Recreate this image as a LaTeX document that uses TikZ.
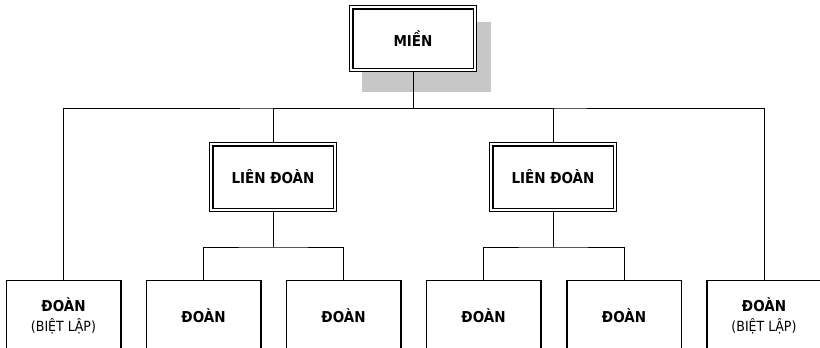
\documentclass[tikz,border=0pt]{standalone}
\usepackage{fontspec}
\setmainfont{DejaVu Sans Condensed}
\newcommand{\nhonho}{\mdseries\fontsize{14}{20}\selectfont}
\tikzset{
  khung/.style={draw, fill=white, line width=1.1pt,
    minimum width=127pt, minimum height=66pt, inner sep=0pt,
    font=\bfseries\fontsize{15}{18}\selectfont},
  doan/.style={draw, line width=1.5pt, minimum width=114.5pt,
    minimum height=70pt, anchor=north, align=center, inner sep=0pt,
    font=\bfseries\fontsize{15}{20}\selectfont},
  noi/.style={line width=0.9pt}
}
\begin{document}
\begin{tikzpicture}[x=1pt,y=-1pt]
  \useasboundingbox (0,0) rectangle (820,348);
  \clip (0,0) rectangle (820,348);
  % shadow of the top box
  \fill[black!22] (362,22) rectangle (491,92);
  \node[khung] (mien) at (413,38.5) {MIỀN};
  \node[khung, minimum height=69pt] (ld1) at (273,177) {LIÊN ĐOÀN};
  \node[khung, minimum height=69pt] (ld2) at (553,177) {LIÊN ĐOÀN};
  % inner line of the double frames
  \foreach \n in {mien,ld1,ld2}
    \draw[line width=1.9pt] ([shift={(3.6,3.6)}]\n.north west) rectangle ([shift={(-3.6,-3.6)}]\n.south east);
  \foreach \i/\x/\t in {1/63.5/{ĐOÀN\\{\nhonho (BIỆT LẬP)}},2/203.5/ĐOÀN,
      3/343.5/ĐOÀN,4/483.5/ĐOÀN,5/624/ĐOÀN,6/764/{ĐOÀN\\{\nhonho (BIỆT LẬP)}}}{
    \node[doan] (b\i) at (\x,279.75) {\t};
  }
  \coordinate (bus) at (mien.south |- 0,108);
  \coordinate (s1) at (ld1.south |- 0,247);
  \coordinate (s2) at (ld2.south |- 0,247);
  \draw[noi] (mien.south)--(bus);
  \draw[noi] (b1.north) |- (bus) -| (b6.north);
  \draw[noi] (bus) -| (ld1.north) (bus) -| (ld2.north);
  \draw[noi] (ld1.south)--(s1) (b2.north) |- (s1) -| (b3.north);
  \draw[noi] (ld2.south)--(s2) (b4.north) |- (s2) -| (b5.north);
\end{tikzpicture}
\end{document}
